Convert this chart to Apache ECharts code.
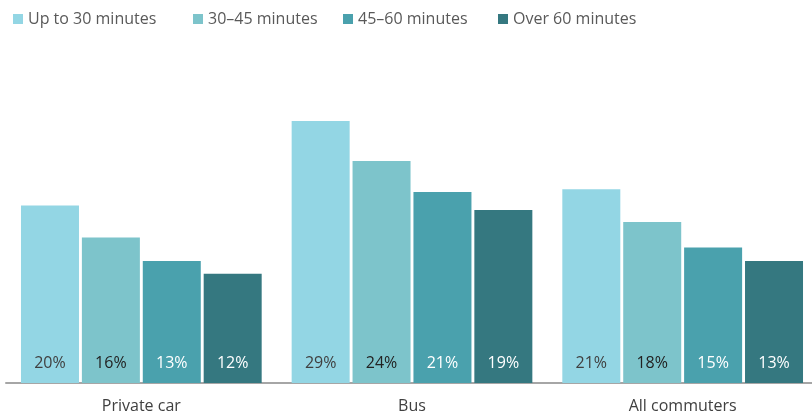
<!DOCTYPE html>
<html>
<head>
<meta charset="utf-8">
<script src="https://cdn.jsdelivr.net/npm/echarts@6/dist/echarts.min.js"></script>
<style>
  html, body { margin: 0; padding: 0; background: #fff; }
  #chart { width: 812px; height: 419px; }
</style>
</head>
<body>
<div id="chart"></div>
<script>
// data
var categories = ["Private car", "Bus", "All commuters"];
var seriesNames = ["Up to 30 minutes", "30–45 minutes", "45–60 minutes", "Over 60 minutes"];
var upTo30 = [19.5, 28.8, 21.3];
var from30to45 = [16.0, 24.4, 17.7];
var from45to60 = [13.4, 21.0, 14.9];
var over60 = [12.0, 19.0, 13.4];

var colors = ["#93d6e4", "#7dc4cb", "#4aa1ad", "#357880"];
var labelColors = ["#404040", "#222222", "#ffffff", "#ffffff"];
var legendLeft = [13, 193, 343, 498];
var values = [upTo30, from30to45, from45to60, over60];
var font = "'Open Sans', sans-serif";

var myChart = echarts.init(document.getElementById("chart"));

var legends = seriesNames.map(function (name, i) {
  return {
    data: [name],
    left: legendLeft[i],
    top: 11,
    padding: 0,
    itemWidth: 10,
    itemHeight: 10,
    icon: "rect",
    selectedMode: false,
    textStyle: { color: "#595959", fontSize: 16, fontFamily: font }
  };
});

var series = seriesNames.map(function (name, i) {
  return {
    name: name,
    type: "bar",
    barWidth: 58,
    barGap: "5%",
    data: values[i],
    itemStyle: { color: colors[i] },
    label: {
      show: true,
      position: "insideBottom",
      distance: 12,
      fontSize: 16,
      fontFamily: font,
      color: labelColors[i],
      formatter: function (p) {
        return Math.round(p.value) + "%";
      }
    }
  };
});

myChart.setOption({
  animation: false,
  color: colors,
  legend: legends,
  grid: { left: 6, width: 812, top: 110, bottom: 36, outerBoundsMode: "none" },
  xAxis: {
    type: "category",
    data: categories,
    axisTick: { show: false },
    axisLine: { lineStyle: { color: "#a6a6a6", width: 2 } },
    axisLabel: { color: "#404040", fontSize: 16, fontFamily: font, margin: 15 }
  },
  yAxis: {
    type: "value",
    min: 0,
    max: 30,
    show: false,
    splitLine: { show: false }
  },
  series: series
});
</script>
</body>
</html>
